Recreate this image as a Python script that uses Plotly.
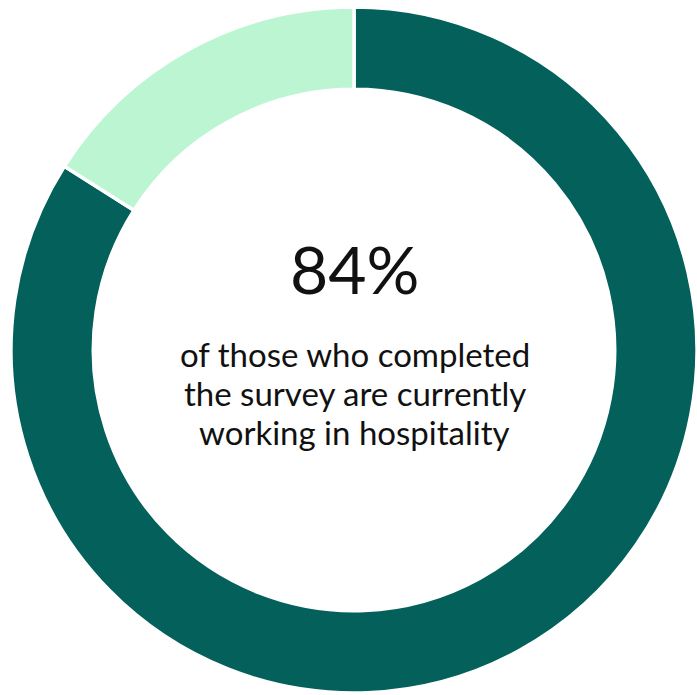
import plotly.graph_objects as go

# Survey share: currently working in hospitality vs. not
labels = ["Currently working in hospitality", "Not currently working in hospitality"]
values = [84, 16]
colors = ["#03605B", "#BBF5D2"]

headline = "84%"
caption_lines = [
    "of those who completed",
    "the survey are currently",
    "working in hospitality",
]

W, H = 697, 695

fig = go.Figure(
    go.Pie(
        labels=labels,
        values=values,
        hole=0.76,
        sort=False,
        direction="clockwise",
        rotation=0,
        marker=dict(colors=colors, line=dict(color="white", width=3.5)),
        textinfo="none",
        hoverinfo="label+percent",
        showlegend=False,
        domain=dict(x=[11 / W, 1.0], y=[0.0, 690 / H]),
    )
)

fig.add_annotation(
    text=headline,
    x=354 / W, y=1 - 268 / H, xref="paper", yref="paper",
    showarrow=False, xanchor="center", yanchor="middle",
    font=dict(family="Lato", size=66, color="#111111"),
)

# caption: one annotation per line for tight line spacing
for i, line in enumerate(caption_lines):
    fig.add_annotation(
        text=line,
        x=355 / W, y=1 - (354 + 39 * i) / H, xref="paper", yref="paper",
        showarrow=False, xanchor="center", yanchor="middle", align="center",
        font=dict(family="Lato", size=33, color="#111111"),
    )

fig.update_layout(
    width=W, height=H,
    margin=dict(l=0, r=0, t=0, b=0),
    paper_bgcolor="white", plot_bgcolor="white",
)

fig.write_html("out.html")
